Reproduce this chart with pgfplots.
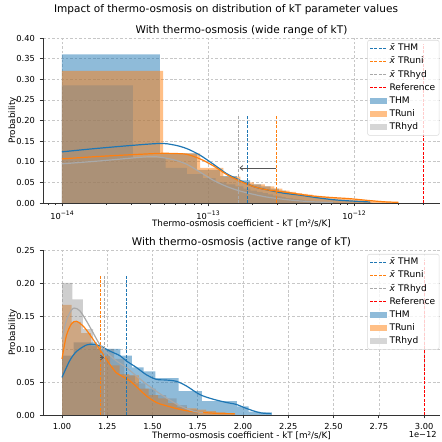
\documentclass[border=0pt]{standalone}
\usepackage{fontspec}
\setmainfont{DejaVu Sans}
\usepackage{pgfplots}
\pgfplotsset{compat=1.18}
\usetikzlibrary{arrows.meta}

\definecolor{tabblue}{HTML}{1F77B4}
\definecolor{taborange}{HTML}{FF7F0E}
\definecolor{tabgray}{HTML}{7F7F7F}
\definecolor{hydline}{HTML}{A9A9A9}
\definecolor{refred}{HTML}{FF0000}
\definecolor{arrowcol}{HTML}{555555}

\pgfplotsset{
  every axis title shift=0pt,
  every axis title/.style={at={(axis description cs:0.5,1.044)}, anchor=center, font=\fontsize{7.9}{9}\selectfont},
  meandash/.style={dash pattern=on 2.2pt off 1.1pt},
  meanleg/.style={legend image code/.code={\draw[draw=#1, draw opacity=1, line width=0.7pt,
      dash pattern=on 2.2pt off 1.1pt, rounded corners=0pt] (0pt,0pt) -- (12.75pt,0pt);}},
  patchleg/.style={legend image code/.code={\fill[fill=#1, fill opacity=1, draw=none,
      rounded corners=0pt] (0pt,-2.2pt) rectangle (12.75pt,2.2pt);}},
  hist/.style 2 args={const plot, draw=none, fill=#1, fill opacity=#2, forget plot},
  kde/.style={#1, line width=0.9pt, smooth, tension=0.5, forget plot},
  chart/.style={
    scale only axis, width=297.75pt, height=123.75pt, anchor=south west,
    axis lines*=left, axis line style={black!80, line width=0.6pt},
    tick align=outside, tick style={black!80, line width=0.5pt},
    major tick length=2.6pt, minor tick length=1.6pt,
    xmajorgrids, ymajorgrids,
    grid style={black!22, line width=0.45pt, dash pattern=on 2pt off 1.4pt},
    ticklabel style={font=\fontsize{6.2}{7}\selectfont},
    yticklabel style={/pgf/number format/fixed, /pgf/number format/fixed zerofill,
      /pgf/number format/precision=2, /pgf/number format/assume math mode=true},
    xlabel style={at={(axis description cs:0.5,-0.124)}, anchor=center, font=\fontsize{6.6}{7.5}\selectfont},
    ylabel style={at={(axis description cs:-0.0763,0.5)}, anchor=center, font=\fontsize{6.6}{7.5}\selectfont},
    xlabel={Thermo-osmosis coefficient - kT [m²/s/K]},
    ylabel={Probability},
    ymin=0,
    legend cell align=left,
    legend style={at={(rel axis cs:1,1)}, anchor=north east, xshift=-0.4pt,
      draw=black!15, fill=white, fill opacity=0.8, text opacity=1, rounded corners=1.5pt,
      font=\fontsize{6.8}{7.5}\selectfont, inner xsep=1.5pt, inner ysep=1.5pt,
      nodes={inner sep=1.5pt, text height=5pt, text depth=1.5pt}, row sep=0.3pt},
  },
}

\begin{document}
\begin{tikzpicture}
\path[use as bounding box] (0pt,0pt) rectangle (331.5pt,331.5pt);

\node[font=\fontsize{7.9}{9}\selectfont] at (169.5pt,324pt) {Impact of thermo-osmosis on distribution of kT parameter values};

% ---------------- top: wide range, log axis ----------------
\begin{axis}[chart, at={(32.25pt,179.25pt)},
  title={With thermo-osmosis (wide range of kT)},
  xmode=log, log basis x=10, xmin=7.41e-15, xmax=3.88e-12, ymax=0.40,
  xtick={1e-14,1e-13,1e-12},
  xticklabels={{10\raisebox{0.75ex}{\fontsize{4.6}{5}\selectfont −14}},
               {10\raisebox{0.75ex}{\fontsize{4.6}{5}\selectfont −13}},
               {10\raisebox{0.75ex}{\fontsize{4.6}{5}\selectfont −12}}},
  minor xtick={8e-15,9e-15,2e-14,3e-14,4e-14,5e-14,6e-14,7e-14,8e-14,9e-14,
               2e-13,3e-13,4e-13,5e-13,6e-13,7e-13,8e-13,9e-13,2e-12,3e-12},
  ytick={0,0.05,0.10,0.15,0.20,0.25,0.30,0.35,0.40},
  legend style={yshift=-1.5pt},
]
% THM
\addplot[hist={tabblue}{0.5}] coordinates {
(1.00e-14,0.36) (4.69e-14,0.12) (8.38e-14,0.08) (12.07e-14,0.065) (15.76e-14,0.055)
(19.45e-14,0.045) (23.14e-14,0.04) (26.83e-14,0.035) (30.52e-14,0.03) (34.21e-14,0.026)
(37.90e-14,0.022) (41.59e-14,0.019) (45.28e-14,0.017) (48.97e-14,0.015) (52.66e-14,0.013)
(56.35e-14,0.012) (60.04e-14,0.011) (63.73e-14,0.010) (67.42e-14,0.009) (71.11e-14,0.008)
(74.80e-14,0.007) (78.49e-14,0.007) (82.18e-14,0.006) (85.87e-14,0.006) (89.56e-14,0.005)
(93.25e-14,0.005) (96.94e-14,0.004) (100.63e-14,0.004) (104.32e-14,0.004) (108.01e-14,0.003)
(111.70e-14,0.003) (115.39e-14,0.003) (119.08e-14,0.002) (122.77e-14,0.002) (126.46e-14,0.002)
(130.15e-14,0.001) (133.84e-14,0.001)
} \closedcycle;
% TRuni
\addplot[hist={taborange}{0.5}] coordinates {
(1.00e-14,0.32) (4.92e-14,0.12) (8.84e-14,0.085) (12.76e-14,0.064) (16.68e-14,0.05)
(20.60e-14,0.045) (24.52e-14,0.04) (28.44e-14,0.035) (32.36e-14,0.030) (36.28e-14,0.027)
(40.20e-14,0.024) (44.12e-14,0.022) (48.04e-14,0.020) (51.96e-14,0.018) (55.88e-14,0.017)
(59.80e-14,0.016) (63.72e-14,0.015) (67.64e-14,0.014) (71.56e-14,0.013) (75.48e-14,0.012)
(79.40e-14,0.011) (83.32e-14,0.011) (87.24e-14,0.010) (91.16e-14,0.010) (95.08e-14,0.009)
(99.00e-14,0.009) (102.92e-14,0.008) (106.84e-14,0.008) (110.76e-14,0.008) (114.68e-14,0.007)
(118.60e-14,0.007) (122.52e-14,0.007) (126.44e-14,0.006) (130.36e-14,0.006) (134.28e-14,0.006)
(138.20e-14,0.005) (142.12e-14,0.005) (146.04e-14,0.005) (149.96e-14,0.005) (153.88e-14,0.004)
(157.80e-14,0.004) (161.72e-14,0.004) (165.64e-14,0.004) (169.56e-14,0.003) (173.48e-14,0.003)
(177.40e-14,0.003) (181.32e-14,0.003) (185.24e-14,0.002) (189.16e-14,0.002) (193.08e-14,0.002)
(197.00e-14,0.002) (200.92e-14,0.002)
} \closedcycle;
% TRhyd
\addplot[hist={tabgray}{0.38}] coordinates {
(1.00e-14,0.285) (3.06e-14,0.11) (5.12e-14,0.085) (7.18e-14,0.07) (9.24e-14,0.06)
(11.30e-14,0.05) (13.36e-14,0.045) (15.42e-14,0.04) (17.48e-14,0.035) (19.54e-14,0.03)
(21.60e-14,0.027) (23.66e-14,0.024) (25.72e-14,0.021) (27.78e-14,0.018) (29.84e-14,0.016)
(31.90e-14,0.014) (33.96e-14,0.012) (36.02e-14,0.011) (38.08e-14,0.01) (40.14e-14,0.009)
(42.20e-14,0.008) (44.26e-14,0.007) (46.32e-14,0.006) (48.38e-14,0.006) (50.44e-14,0.005)
(52.50e-14,0.005) (54.56e-14,0.004) (56.62e-14,0.004) (58.68e-14,0.003) (60.74e-14,0.003)
(62.80e-14,0.003) (64.86e-14,0.002) (66.92e-14,0.002) (68.98e-14,0.002) (71.04e-14,0.002)
(73.10e-14,0.001) (75.16e-14,0.001) (77.22e-14,0.001) (79.28e-14,0.001)
} \closedcycle;

% KDE curves
\addplot[kde=tabblue] coordinates {
(1e-14,0.124) (1.82e-14,0.133) (4.45e-14,0.144) (5.79e-14,0.141) (7.14e-14,0.132)
(8.81e-14,0.116) (1.089e-13,0.094) (1.343e-13,0.071) (1.656e-13,0.055) (2.046e-13,0.040)
(2.523e-13,0.032) (3.281e-13,0.024) (4.266e-13,0.019) (5.546e-13,0.013) (7.211e-13,0.008)
(9.397e-13,0.005) (1.288e-12,0.0025)
};
\addplot[kde=taborange] coordinates {
(1e-14,0.107) (1.82e-14,0.113) (4.45e-14,0.120) (5.79e-14,0.120) (7.14e-14,0.118)
(8.81e-14,0.107) (1.089e-13,0.090) (1.343e-13,0.069) (1.656e-13,0.053) (2.046e-13,0.040)
(2.523e-13,0.032) (3.281e-13,0.027) (4.266e-13,0.021) (5.546e-13,0.016) (7.211e-13,0.013)
(9.397e-13,0.0105) (1.222e-12,0.0065) (1.589e-12,0.003) (2.01e-12,0.0016)
};
\addplot[kde=hydline] coordinates {
(1e-14,0.095) (1.82e-14,0.102) (3.5e-14,0.111) (4.45e-14,0.112) (5.79e-14,0.105)
(7.14e-14,0.094) (8.81e-14,0.075) (1.089e-13,0.055) (1.343e-13,0.040) (1.656e-13,0.029)
(2.046e-13,0.021) (2.523e-13,0.0145) (3.281e-13,0.009) (4.266e-13,0.005) (5.546e-13,0.0025)
(7.2e-13,0.001)
};

% means and reference
\addplot[tabblue, line width=0.7pt, meandash, forget plot] coordinates {(1.85e-13,0) (1.85e-13,0.2125)};
\addplot[taborange, line width=0.7pt, meandash, forget plot] coordinates {(2.95e-13,0) (2.95e-13,0.2125)};
\addplot[hydline, line width=0.7pt, meandash, forget plot] coordinates {(1.61e-13,0) (1.61e-13,0.2125)};
\addplot[refred, line width=0.7pt, meandash, forget plot] coordinates {(3e-12,0) (3e-12,0.385)};
\addplot[arrowcol, line width=0.6pt, -{Straight Barb[length=2.2pt,width=3.6pt]}, forget plot]
  coordinates {(2.93e-13,0.085) (1.64e-13,0.085)};

\addlegendimage{meanleg=tabblue}
\addlegendentry{\textit{\={x}} THM}
\addlegendimage{meanleg=taborange}
\addlegendentry{\textit{\={x}} TRuni}
\addlegendimage{meanleg=hydline}
\addlegendentry{\textit{\={x}} TRhyd}
\addlegendimage{meanleg=refred}
\addlegendentry{Reference}
\addlegendimage{patchleg=tabblue!50!white}
\addlegendentry{THM}
\addlegendimage{patchleg=taborange!50!white}
\addlegendentry{TRuni}
\addlegendimage{patchleg=tabgray!32!white}
\addlegendentry{TRhyd}
\end{axis}

% ---------------- bottom: active range, linear axis ----------------
\begin{axis}[chart, at={(32.25pt,20.25pt)},
  title={With thermo-osmosis (active range of kT)},
  xmin=0.895, xmax=3.088, ymax=0.25,
  xtick={1.00,1.25,1.50,1.75,2.00,2.25,2.50,2.75,3.00},
  xticklabel style={/pgf/number format/fixed, /pgf/number format/fixed zerofill,
    /pgf/number format/precision=2, /pgf/number format/assume math mode=true},
  ytick={0,0.05,0.10,0.15,0.20,0.25},
  legend style={yshift=-3pt},
]
% THM
\addplot[hist={tabblue}{0.5}] coordinates {
(1.0000,0.09) (1.0644,0.11) (1.1288,0.11) (1.1932,0.10) (1.2576,0.10) (1.3220,0.09)
(1.3864,0.072) (1.4508,0.066) (1.5152,0.056) (1.5796,0.056) (1.6440,0.036) (1.7084,0.036)
(1.7728,0.021) (1.8372,0.021) (1.9016,0.021) (1.9660,0.013) (2.0304,0.005) (2.0948,0.004)
(2.1592,0.004)
} \closedcycle;
% TRuni
\addplot[hist={taborange}{0.5}] coordinates {
(1.0000,0.167) (1.0531,0.141) (1.1062,0.124) (1.1593,0.105) (1.2124,0.09) (1.2655,0.075)
(1.3186,0.062) (1.3717,0.06) (1.4248,0.04) (1.4779,0.03) (1.5310,0.025) (1.5841,0.018)
(1.6372,0.012) (1.6903,0.01) (1.7434,0.008) (1.7965,0.006) (1.8496,0.004) (1.9027,0.003)
(1.9558,0.003)
} \closedcycle;
% TRhyd
\addplot[hist={tabgray}{0.38}] coordinates {
(1.0000,0.20) (1.0575,0.175) (1.1150,0.13) (1.1725,0.105) (1.2300,0.10) (1.2875,0.085)
(1.3450,0.06) (1.4025,0.048) (1.4600,0.04) (1.5175,0.03) (1.5750,0.025) (1.6325,0.015)
(1.6900,0.008) (1.7475,0.008)
} \closedcycle;

\addplot[kde=tabblue] coordinates {
(1.0,0.057) (1.042,0.082) (1.079,0.096) (1.134,0.106) (1.171,0.107) (1.208,0.105)
(1.263,0.097) (1.319,0.090) (1.355,0.082) (1.411,0.072) (1.466,0.061) (1.521,0.054)
(1.576,0.053) (1.632,0.051) (1.687,0.044) (1.761,0.031) (1.834,0.024) (1.908,0.019)
(1.963,0.016) (2.018,0.010) (2.092,0.0035) (2.157,0.002)
};
\addplot[kde=taborange] coordinates {
(1.0,0.085) (1.024,0.12) (1.052,0.138) (1.079,0.142) (1.116,0.135) (1.153,0.122)
(1.190,0.107) (1.227,0.092) (1.263,0.077) (1.300,0.064) (1.337,0.058) (1.374,0.052)
(1.411,0.043) (1.466,0.029) (1.521,0.019) (1.576,0.014) (1.650,0.0086) (1.724,0.005)
(1.853,0.0025) (1.954,0.002)
};
\addplot[kde=hydline] coordinates {
(1.0,0.115) (1.024,0.143) (1.052,0.159) (1.070,0.162) (1.098,0.158) (1.134,0.143)
(1.171,0.125) (1.208,0.107) (1.245,0.095) (1.300,0.082) (1.355,0.072) (1.411,0.059)
(1.466,0.047) (1.521,0.036) (1.576,0.026) (1.650,0.014) (1.724,0.006) (1.779,0.0035)
};

\addplot[tabblue, line width=0.7pt, meandash, forget plot] coordinates {(1.357,0) (1.357,0.213)};
\addplot[taborange, line width=0.7pt, meandash, forget plot] coordinates {(1.214,0) (1.214,0.213)};
\addplot[hydline, line width=0.7pt, meandash, forget plot] coordinates {(1.234,0) (1.234,0.213)};
\addplot[refred, line width=0.7pt, meandash, forget plot] coordinates {(3.0,0) (3.0,0.235)};
\addplot[arrowcol, line width=0.6pt, -{Straight Barb[length=2.2pt,width=3.6pt]}, forget plot]
  coordinates {(1.212,0.087) (1.232,0.087)};

\addlegendimage{meanleg=tabblue}
\addlegendentry{\textit{\={x}} THM}
\addlegendimage{meanleg=taborange}
\addlegendentry{\textit{\={x}} TRuni}
\addlegendimage{meanleg=hydline}
\addlegendentry{\textit{\={x}} TRhyd}
\addlegendimage{meanleg=refred}
\addlegendentry{Reference}
\addlegendimage{patchleg=tabblue!50!white}
\addlegendentry{THM}
\addlegendimage{patchleg=taborange!50!white}
\addlegendentry{TRuni}
\addlegendimage{patchleg=tabgray!32!white}
\addlegendentry{TRhyd}
\end{axis}

\node[anchor=east, font=\fontsize{6.2}{7}\selectfont] at (331pt,5.3pt) {1e−12};
\end{tikzpicture}
\end{document}
